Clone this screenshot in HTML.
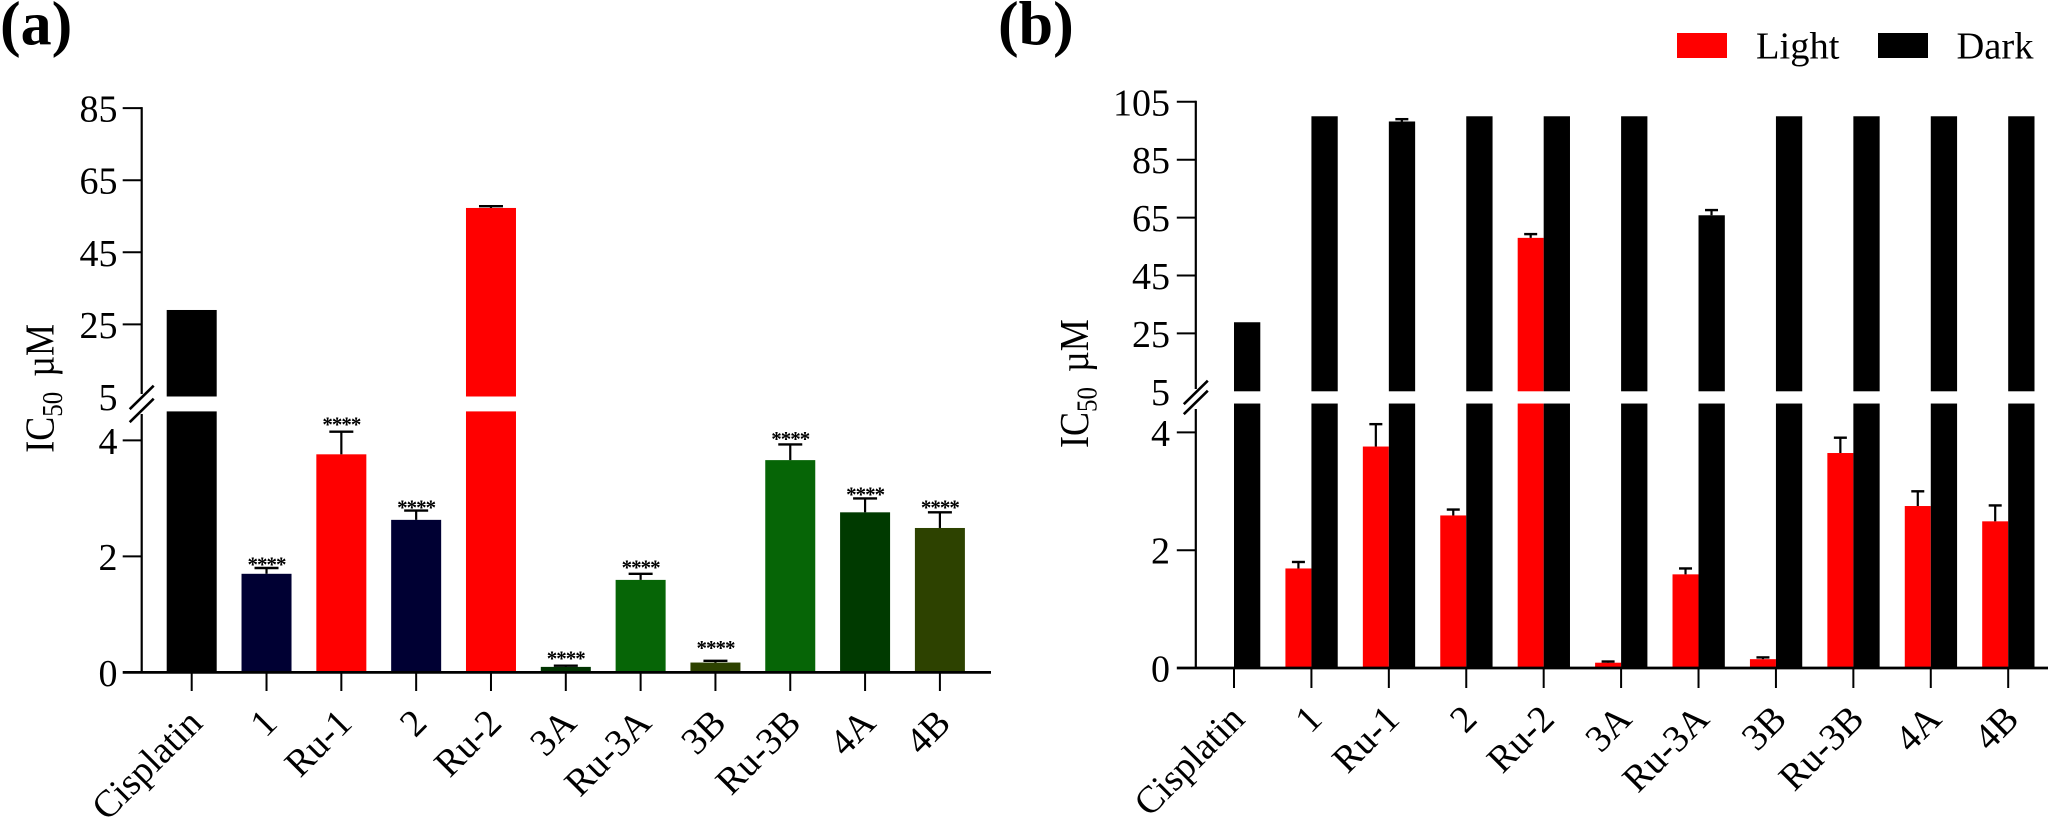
<!DOCTYPE html>
<html lang="en">
<head>
<meta charset="utf-8">
<title>IC50 bar charts</title>
<style>
html,body{margin:0;padding:0;background:#fff;}
svg{display:block;}
text{font-family:"Liberation Serif",serif;fill:#000;}
</style>
</head>
<body>
<svg id="figure" width="2048" height="819" viewBox="0 0 2048 819" xmlns="http://www.w3.org/2000/svg">
  <rect x="0" y="0" width="2048" height="819" fill="#fff"/>
  <text x="0" y="44.5" font-size="62" font-weight="bold">(a)</text>
  <text x="998" y="44.5" font-size="62" font-weight="bold">(b)</text>
  <g>
    <rect x="1677" y="33" width="50" height="25" fill="#ff0000"/>
    <text x="1756" y="58.3" font-size="38.5">Light</text>
    <rect x="1878" y="33" width="50" height="25" fill="#000"/>
    <text x="1956.5" y="58.3" font-size="38.5">Dark</text>
  </g>
  <text transform="translate(53.5 452.7) rotate(-90) scale(1 1.14)" font-size="36">IC<tspan font-size="25" dy="7.4">50</tspan><tspan dy="-7.4" dx="15">µM</tspan></text>
  <text transform="translate(1088 448) rotate(-90) scale(1 1.14)" font-size="36">IC<tspan font-size="25" dy="7.4">50</tspan><tspan dy="-7.4" dx="15">µM</tspan></text>
  <g id="panel-a"></g>
  <g id="panel-b"></g>
</svg>
<script>
// Shared data
const categories = ["Cisplatin","1","Ru-1","2","Ru-2","3A","Ru-3A","3B","Ru-3B","4A","4B"];
const upperTicks = [25,45,65,85];
const upperTicksB = [25,45,65,85,105];
const lowerTicks = [0,2,4];
const breakLabel = 5;

// Panel (a)
const aValues = [29,1.70,3.76,2.63,57.3,0.095,1.595,0.17,3.66,2.76,2.49];
const aErrors = [0,0.10,0.39,0.16,0.5,0.02,0.105,0.03,0.27,0.24,0.27];
const aColors = ["#000000","#000033","#ff0000","#000033","#ff0000","#003300","#066506","#2d4200","#066506","#003a00","#2d4200"];
const aStars = ["","****","****","****","","****","****","****","****","****","****"];
const aStarLevels = [0,1.836,4.25,2.82,0,0.216,1.784,0.393,3.997,3.043,2.82];

// Panel (b)
const bLight = [0,1.69,3.76,2.59,58,0.09,1.59,0.15,3.65,2.75,2.49];
const bLightErrors = [0,0.11,0.38,0.10,1.3,0.02,0.10,0.03,0.26,0.25,0.27];
const bDark = [28.85,100,98.2,100,100,100,65.8,100,100,100,100];
const bDarkErrors = [0,0,0.8,0,0,0,1.8,0,0,0,0];

const NS = "http://www.w3.org/2000/svg";
function mk(parent, tag, attrs, txt){
  const el = document.createElementNS(NS, tag);
  for (const k in attrs) el.setAttribute(k, attrs[k]);
  if (txt !== undefined) el.textContent = txt;
  parent.appendChild(el);
  return el;
}
function makeScale(zeroY, unitLow, breakLow, fiveY, per20){
  const lowerTopY = zeroY - unitLow * breakLow;
  const fn = v => v <= breakLow ? zeroY - unitLow * v : fiveY - (v - 5) * per20 / 20;
  fn.zeroY = zeroY; fn.breakLow = breakLow; fn.fiveY = fiveY; fn.lowerTopY = lowerTopY;
  return fn;
}
function drawBar(g, scale, x, w, v, color, name){
  const lowTop = v >= scale.breakLow ? scale.lowerTopY : scale(v);
  const low = mk(g, "rect", {x:x, y:lowTop, width:w, height:scale.zeroY - lowTop, fill:color});
  
  
  if (v > 5){
    const up = mk(g, "rect", {x:x, y:scale(v), width:w, height:scale.fiveY - scale(v), fill:color});
    
    
  }
}
function drawError(g, scale, cx, v, err, capW, name){
  if (!err) return;
  const top = scale(v + err), base = scale(v);
  const stem = mk(g, "line", {x1:cx, x2:cx, y1:base, y2:top, stroke:"#000", "stroke-width":2.2});
  
  
  const cap = mk(g, "line", {x1:cx-capW/2, x2:cx+capW/2, y1:top, y2:top, stroke:"#000", "stroke-width":2.4});
  
  
}
function drawAxes(g, o, scale, ticksUp){
  const ax = o.axisX;
  const top = scale(ticksUp[ticksUp.length-1]);
  const a1 = mk(g, "line", {x1:ax, x2:ax, y1:top-1, y2:o.upperAxisEnd, stroke:"#000", "stroke-width":2.2});
  
  
  const a2 = mk(g, "line", {x1:ax, x2:ax, y1:o.lowerAxisStart, y2:scale.zeroY, stroke:"#000", "stroke-width":2.2});
  
  
  const s1 = mk(g, "line", {x1:ax-12, x2:ax+12, y1:o.slash1+23.5, y2:o.slash1, stroke:"#000", "stroke-width":2.6});
  
  
  const s2 = mk(g, "line", {x1:ax-12, x2:ax+12, y1:o.slash2+23.5, y2:o.slash2, stroke:"#000", "stroke-width":2.6});
  
  
  const xa = mk(g, "line", {x1:ax-19, x2:o.axisEnd, y1:scale.zeroY, y2:scale.zeroY, stroke:"#000", "stroke-width":2.8});
  
  
  ticksUp.concat(lowerTicks).forEach(t => {
    const y = scale(t);
    if (t !== 0){
      const tk = mk(g, "line", {x1:ax-19, x2:ax, y1:y, y2:y, stroke:"#000", "stroke-width":2});
      
      
    }
    const lb = mk(g, "text", {x:o.labelX, y:y+13.5, "text-anchor":"end", "font-size":38}, String(t));
    
    
  });
  const bl = mk(g, "text", {x:o.labelX, y:scale.fiveY+13.5, "text-anchor":"end", "font-size":38}, String(breakLabel));
  
  
  categories.forEach((c,i) => {
    const x = o.x0 + i * o.step;
    const tk = mk(g, "line", {x1:x, x2:x, y1:scale.zeroY, y2:o.tickEnd, stroke:"#000", "stroke-width":2});
    
    
    const lx = x + 12.5, ly = o.xLabelY;
    const lb = mk(g, "text", {x:lx, y:ly, "text-anchor":"end", "font-size":38, transform:"rotate(-45 "+lx+" "+ly+")"}, c);
    
    
  });
}

// Panel (a) drawing
const gA = document.getElementById("panel-a");
const yA = makeScale(672.4, 58, 4.5, 396.5, 72.1);
const optA = {axisX:141.7, axisEnd:991, upperAxisEnd:394, lowerAxisStart:414, slash1:385.7, slash2:398.7, labelX:117.5, x0:191.7, step:74.82, tickEnd:691, xLabelY:725};
categories.forEach((c,i) => {
  const cx = optA.x0 + i * optA.step;
  drawBar(gA, yA, cx-25, 50, aValues[i], aColors[i], 'bar-' + c.toLowerCase());
  drawError(gA, yA, cx, aValues[i], aErrors[i], 24, 'error-bar-' + c.toLowerCase());
  if (aStars[i]){
    const s = mk(gA, "text", {x:cx, y:yA(aStarLevels[i])+5.5, "text-anchor":"middle", "font-size":21, "font-weight":"bold", "letter-spacing":"-1"}, aStars[i]);
    
    
  }
});
drawAxes(gA, optA, yA, upperTicks);

// Panel (b) drawing
const gB = document.getElementById("panel-b");
const yB = makeScale(668, 58.9, 4.49, 391.3, 57.9);
const optB = {axisX:1195.8, axisEnd:2048, upperAxisEnd:389, lowerAxisStart:409, slash1:380.7, slash2:390.7, labelX:1170, x0:1234, step:77.42, tickEnd:688, xLabelY:721};
categories.forEach((c,i) => {
  const cx = optB.x0 + i * optB.step;
  if (bLight[i]) drawBar(gB, yB, cx-26, 26, bLight[i], "#ff0000", 'bar-light-' + c.toLowerCase());
  drawBar(gB, yB, cx, 26.3, bDark[i], "#000000", 'bar-dark-' + c.toLowerCase());
  drawError(gB, yB, cx-13, bLight[i], bLightErrors[i], 13, 'error-bar-light-' + c.toLowerCase());
  drawError(gB, yB, cx+13, bDark[i], bDarkErrors[i], 13, 'error-bar-dark-' + c.toLowerCase());
});
drawAxes(gB, optB, yB, upperTicksB);
</script>
</body>
</html>
